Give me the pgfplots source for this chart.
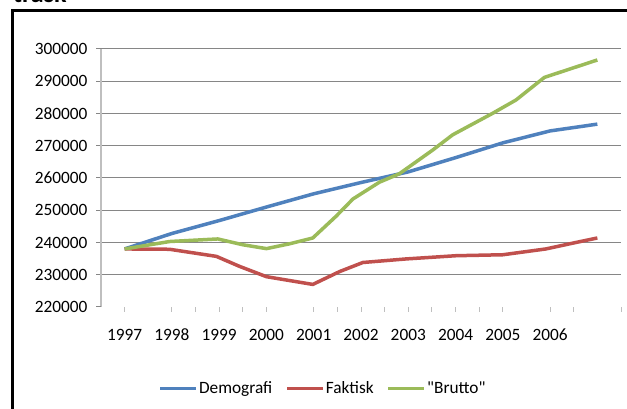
\documentclass[border=0pt]{standalone}
\usepackage{fontspec}
\setmainfont{Carlito}[Ligatures=TeXOff]
\usepackage{pgfplots}
\pgfplotsset{compat=1.18}
\definecolor{demo}{HTML}{4F81BD}
\definecolor{fakt}{HTML}{C0504D}
\definecolor{brut}{HTML}{9BBB59}
\definecolor{gridc}{HTML}{868686}
\definecolor{axc}{HTML}{BFBFBF}
\begin{document}
\begin{tikzpicture}[x=1pt,y=1pt]
\useasboundingbox (0,0) rectangle (627,409);
\clip (0,0) rectangle (627,409);
\fill[white] (0,0) rectangle (627,409);
\node[anchor=base west, inner sep=0pt, font=\bfseries\fontsize{26}{30}\selectfont] at (13,406.5) {trask};
\draw[line width=3pt] (12.5,-20) -- (12.5,398.5) -- (700,398.5);
\begin{axis}[
 at={(101pt,102pt)}, anchor=south west,
 scale only axis, width=520pt, height=258pt,
 xmin=1996.5, xmax=2007.5, ymin=220000, ymax=300000,
 axis x line=bottom, axis y line=left,
 x axis line style={draw=none,-},
 y axis line style={draw=axc, line width=1.2pt, -},
 tick align=outside,
 major tick length=5pt,
 xtick={1998.5,1999.5,2001.5,2002.5,2003.5,2004.5,2006.5,2007.5},
 xticklabels={},
 x tick style={draw=axc, line width=1pt},
 extra x ticks={1997,1998,1999,2000,2001,2002,2003,2004,2005,2006},
 extra x tick labels={1997,1998,1999,2000,2001,2002,2003,2004,2005,2006},
 extra x tick style={tick style={draw=none}},
 ytick={230000,240000,250000,260000,270000,280000,290000,300000},
 y tick style={draw=gridc, line width=1pt},
 extra y ticks={220000},
 extra y tick style={grid=none, tick style={draw=none}},
 ymajorgrids,
 major grid style={draw=gridc, line width=1pt},
 scaled y ticks=false,
 /pgf/number format/.cd, fixed, 1000 sep={}, assume math mode=true,
 /pgfplots/.cd,
 tick label style={font=\fontsize{17.3}{20}\selectfont},
 xticklabel style={anchor=north, text height=12pt, text depth=2pt, yshift=-13pt},
 yticklabel style={xshift=-5pt},
 legend columns=3,
 legend style={draw=none, fill=none, at={(rel axis cs:0.426,-0.315)}, anchor=center,
   font=\fontsize{17.3}{20}\selectfont,
   nodes={inner sep=1pt},
   /tikz/every even column/.append style={column sep=12pt}},
 legend image code/.code={\draw[#1, line width=3.5pt] (0pt,0pt) -- (36pt,0pt);},
 every axis plot/.append style={line width=3.5pt, line join=round, no markers},
 clip=false,
]
\addplot[demo] coordinates {
(1997.0,238000) (1998.0,242800) (1999.0,246800) (2000.0,251000)
(2001.0,255100) (2002.0,258600) (2003.0,261900) (2004.0,266300)
(2005.0,270900) (2006.0,274600) (2007.0,276700)};
\addlegendentry{Demografi}
\addplot[fakt] coordinates {
(1997.0,238000) (1997.95,237900) (1998.94,235700) (1999.43,232600)
(2000.0,229400) (2000.98,227000) (2001.55,231000) (2002.04,233800)
(2002.95,234900) (2004.01,235900) (2005.0,236200) (2005.91,238000)
(2006.48,239800) (2007.0,241400)};
\addlegendentry{Faktisk}
\addplot[brut] coordinates {
(1997.0,238000) (1997.95,240300) (1998.97,241100) (1999.5,239300)
(2000.0,238100) (2000.49,239600) (2000.98,241400) (2001.47,248100)
(2001.83,253500) (2002.39,258700) (2002.81,261300) (2003.52,268700)
(2003.94,273400) (2004.79,280100) (2005.28,284200) (2005.88,291200)
(2007.0,296600)};
\addlegendentry{"Brutto"}
\end{axis}
\end{tikzpicture}
\end{document}
